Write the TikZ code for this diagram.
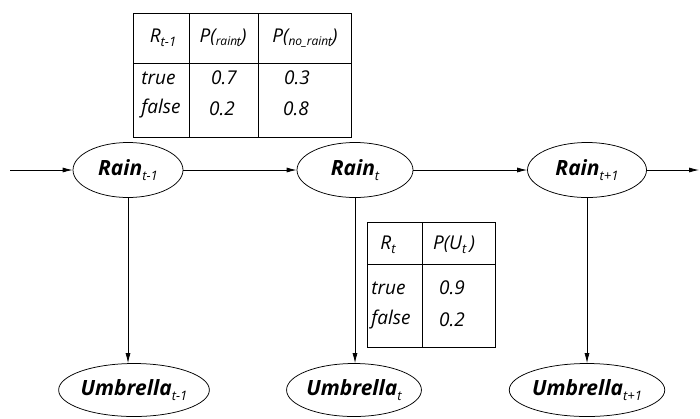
\documentclass[tikz,border=0pt]{standalone}
\usepackage{fontspec}
\setmainfont{Open Sans}
\usetikzlibrary{shapes.geometric,arrows.meta}
\newcommand{\lowsub}[1]{\raisebox{-0.4ex}{\mdseries\fontsize{13}{15}\selectfont #1}}
\newcommand{\smallsub}[1]{\raisebox{-0.3ex}{\fontsize{12}{14}\selectfont #1}}

\begin{document}
\begin{tikzpicture}[x=1pt,y=-1pt,line width=0.75pt,
  varnode/.style={draw,ellipse,inner sep=0pt,minimum height=55pt,font=\fontsize{21}{24}\selectfont\bfseries\itshape},
  arr/.style={-{Latex[length=10pt,width=5pt]}},
  cell/.style={font=\fontsize{19}{22}\selectfont\itshape,inner sep=0pt}]
  \useasboundingbox (0,0) rectangle (700,418);
  \node[varnode,minimum width=110pt] (r1) at (128,170) {Rain\lowsub{t-1}};
  \node[varnode,minimum width=116pt] (r2) at (355,170) {Rain\lowsub{t}};
  \node[varnode,minimum width=119pt] (r3) at (587,170) {Rain\lowsub{t+1}};
  \node[varnode,minimum width=108pt,minimum height=53pt] (u1) at (134,390) {Umbrella\lowsub{t-1}};
  \node[varnode,minimum width=116pt,minimum height=53pt] (u2) at (354,390) {Umbrella\lowsub{t}};
  \node[varnode,minimum width=119pt,minimum height=53pt] (u3) at (587,390) {Umbrella\lowsub{t+1}};
  \coordinate (in) at (10,170);
  \coordinate (out) at (699,170);
  \draw[arr] (in) -- (r1);
  \draw[arr] (r1) -- (r2);
  \draw[arr] (r2) -- (r3);
  \draw[arr] (r3) -- (out);
  \draw[arr] (r1.south) -- (r1.south |- u1.north);
  \draw[arr] (r2.south) -- (r2.south |- u2.north);
  \draw[arr] (r3.south) -- (r3.south |- u3.north);
  \draw (133,13) rectangle (351,137);
  \draw (133,63) -- (351,63);
  \draw (189,13) -- (189,137);
  \draw (258,13) -- (258,137);
  \node[cell] (h1) at (163,38) {R\lowsub{t-1}};
  \node[cell] (h2) at (223,38) {P(\smallsub{rain}\lowsub{\kern-0.5pt t})};
  \node[cell] (h3) at (305,38) {P(\smallsub{no\_rain}\lowsub{\kern-0.5pt t})};
  \node[cell,anchor=west] (a1) at (141,78) {true};
  \node[cell,anchor=west] (a2) at (141,109) {false};
  \node[cell] (a3) at (224,78) {0.7};
  \node[cell] (a4) at (222,109) {0.2};
  \node[cell] (a5) at (297,78) {0.3};
  \node[cell] (a6) at (296,109) {0.8};
  \draw (367,222) rectangle (495,347);
  \draw (367,264) -- (495,264);
  \draw (422,222) -- (422,347);
  \node[cell] (k1) at (388,245) {R\lowsub{t}};
  \node[cell] (k2) at (454,245) {P(U\lowsub{t}\,)};
  \node[cell,anchor=west] (b1) at (371,288) {true};
  \node[cell,anchor=west] (b2) at (371,320) {false};
  \node[cell] (b3) at (452,288) {0.9};
  \node[cell] (b4) at (452,320) {0.2};
\end{tikzpicture}
\end{document}
